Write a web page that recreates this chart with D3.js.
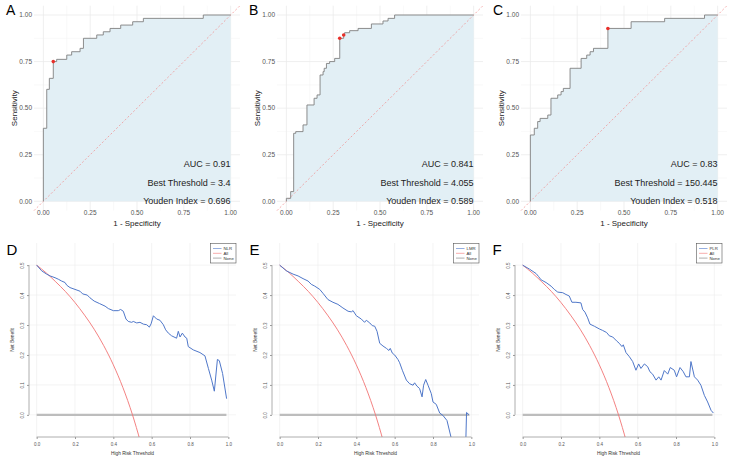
<!DOCTYPE html>
<html>
<head>
<meta charset="utf-8">
<script src="https://cdn.jsdelivr.net/npm/d3@7"></script>
<style>
body { margin: 0; background: #fff; }
svg { font-family: "Liberation Sans", Arial, sans-serif; }
</style>
</head>
<body>
<svg id="chart" width="729" height="461"></svg>
<script>
// ROC curves: vertices of the step curve (fpr, tpr)
const rocA_fpr = [0, 0, 0.018, 0.032, 0.053, 0.071, 0.125, 0.151, 0.196, 0.214, 0.285, 0.32, 0.356, 0.413, 0.477, 0.534, 0.854, 1];
const rocA_tpr = [0, 0.392, 0.601, 0.66, 0.75, 0.762, 0.785, 0.803, 0.821, 0.875, 0.893, 0.91, 0.928, 0.946, 0.964, 0.982, 1, 1];

const rocB_fpr = [0, 0, 0.023, 0.039, 0.05, 0.089, 0.11, 0.148, 0.164, 0.18, 0.196, 0.202, 0.214, 0.231, 0.258, 0.285, 0.306, 0.311, 0.338, 0.383, 0.454, 0.516, 0.543, 0.578, 1];
const rocB_tpr = [0, 0.016, 0.052, 0.365, 0.374, 0.41, 0.517, 0.553, 0.571, 0.678, 0.696, 0.714, 0.74, 0.75, 0.767, 0.875, 0.893, 0.905, 0.916, 0.928, 0.952, 0.968, 0.982, 1, 1];

const rocC_fpr = [0, 0, 0.021, 0.039, 0.052, 0.093, 0.11, 0.146, 0.164, 0.176, 0.212, 0.271, 0.301, 0.319, 0.337, 0.414, 0.538, 0.717, 0.93, 1];
const rocC_tpr = [0, 0.356, 0.392, 0.428, 0.445, 0.463, 0.553, 0.571, 0.589, 0.606, 0.714, 0.767, 0.785, 0.803, 0.821, 0.928, 0.964, 0.982, 1, 1];

// best thresholds (red points)
const bestA = [[0.053, 0.75]];
const bestB = [[0.285, 0.875], [0.306, 0.893]];
const bestC = [[0.414, 0.928]];

const rocLabels = ["A", "B", "C"];
const aucText = ["AUC = 0.91", "AUC = 0.841", "AUC = 0.83"];
const thresholdText = ["Best Threshold = 3.4", "Best Threshold = 4.055", "Best Threshold = 150.445"];
const youdenText = ["Youden Index = 0.696", "Youden Index = 0.589", "Youden Index = 0.518"];
const rocTicks = [0, 0.25, 0.5, 0.75, 1];

// Decision curves
const allThr = [0, 0.05, 0.1, 0.15, 0.2, 0.25, 0.3, 0.35, 0.4, 0.45, 0.5, 0.52, 0.54];
const allNb  = [0.5, 0.474, 0.444, 0.412, 0.375, 0.333, 0.286, 0.231, 0.167, 0.091, 0.0, -0.042, -0.087];

const nlrThr = [0, 0.026, 0.052, 0.07, 0.096, 0.113, 0.13, 0.148, 0.157, 0.174, 0.2, 0.226, 0.24, 0.264, 0.278, 0.3, 0.327, 0.357, 0.374, 0.4, 0.426, 0.438, 0.452, 0.466, 0.478, 0.496, 0.504, 0.522, 0.539, 0.557, 0.574, 0.588, 0.597, 0.609, 0.626, 0.643, 0.661, 0.673, 0.687, 0.704, 0.73, 0.739, 0.748, 0.76, 0.774, 0.783, 0.791, 0.817, 0.852, 0.878, 0.896, 0.913, 0.927, 0.943, 0.953, 0.97, 0.991];
const nlrNb  = [0.5, 0.481, 0.47, 0.464, 0.458, 0.453, 0.447, 0.442, 0.433, 0.425, 0.419, 0.413, 0.404, 0.4, 0.391, 0.38, 0.372, 0.363, 0.355, 0.348, 0.348, 0.352, 0.346, 0.32, 0.312, 0.309, 0.312, 0.307, 0.309, 0.303, 0.301, 0.293, 0.304, 0.331, 0.32, 0.316, 0.301, 0.284, 0.273, 0.264, 0.256, 0.279, 0.26, 0.273, 0.26, 0.256, 0.228, 0.217, 0.208, 0.197, 0.155, 0.116, 0.079, 0.185, 0.181, 0.138, 0.054];

const lmrThr = [0, 0.035, 0.07, 0.096, 0.122, 0.148, 0.165, 0.183, 0.209, 0.226, 0.252, 0.278, 0.304, 0.33, 0.357, 0.374, 0.383, 0.4, 0.426, 0.443, 0.452, 0.47, 0.483, 0.496, 0.508, 0.522, 0.539, 0.557, 0.57, 0.577, 0.588, 0.6, 0.617, 0.626, 0.64, 0.661, 0.678, 0.696, 0.704, 0.716, 0.73, 0.743, 0.751, 0.762, 0.774, 0.791, 0.8, 0.817, 0.835, 0.852, 0.873, 0.896, 0.93, 0.97, 0.975, 0.988];
const lmrNb  = [0.5, 0.481, 0.47, 0.464, 0.455, 0.447, 0.436, 0.43, 0.419, 0.406, 0.385, 0.376, 0.369, 0.357, 0.346, 0.344, 0.348, 0.331, 0.32, 0.309, 0.316, 0.307, 0.298, 0.296, 0.279, 0.239, 0.23, 0.222, 0.215, 0.222, 0.206, 0.2, 0.185, 0.174, 0.149, 0.116, 0.104, 0.099, 0.107, 0.096, 0.088, 0.06, 0.099, 0.118, 0.099, 0.071, 0.043, 0.035, 0.006, -0.002, -0.019, -0.08, -0.15, -0.12, 0.008, 0.0];

const plrThr = [0, 0.035, 0.07, 0.083, 0.096, 0.122, 0.148, 0.165, 0.183, 0.209, 0.226, 0.243, 0.257, 0.278, 0.304, 0.313, 0.325, 0.339, 0.351, 0.374, 0.4, 0.417, 0.438, 0.452, 0.47, 0.49, 0.504, 0.518, 0.525, 0.539, 0.557, 0.574, 0.591, 0.605, 0.617, 0.635, 0.652, 0.664, 0.678, 0.696, 0.71, 0.722, 0.739, 0.757, 0.77, 0.791, 0.803, 0.821, 0.838, 0.852, 0.87, 0.878, 0.896, 0.913, 0.93, 0.948, 0.965, 0.983, 0.995];
const plrNb  = [0.5, 0.487, 0.472, 0.462, 0.451, 0.442, 0.43, 0.419, 0.41, 0.408, 0.402, 0.397, 0.376, 0.376, 0.374, 0.352, 0.343, 0.324, 0.303, 0.296, 0.287, 0.282, 0.275, 0.264, 0.26, 0.247, 0.239, 0.228, 0.234, 0.208, 0.194, 0.178, 0.149, 0.17, 0.155, 0.17, 0.161, 0.144, 0.136, 0.116, 0.127, 0.116, 0.148, 0.136, 0.158, 0.149, 0.127, 0.158, 0.144, 0.127, 0.127, 0.178, 0.127, 0.116, 0.099, 0.065, 0.043, 0.015, 0.006];

const noneThr = [0, 0.99];
const noneNb = [0, 0];

const dcaLabels = ["D", "E", "F"];
const dcaModels = ["NLR", "LMR", "PLR"];
const dcaXTicks = [0, 0.2, 0.4, 0.6, 0.8, 1];
const dcaYTicks = [0, 0.1, 0.2, 0.3, 0.4, 0.5];

const zip = (a, b) => a.map((v, i) => [v, b[i]]);

const svg = d3.select("#chart");

function drawRoc(left, idx, fpr, tpr, best) {
	const g = svg.append("g").attr("transform", `translate(${left},0)`);
	const x = d3.scaleLinear().domain([-0.05, 1.05]).range([34, 240]);
	const y = d3.scaleLinear().domain([-0.05, 1.05]).range([210.6, 5.7]);

	// grid (theme_minimal)
	const minor = [0.125, 0.375, 0.625, 0.875];
	g.append("g").selectAll("line").data(minor).join("line")
		.attr("x1", (d) => x(d)).attr("x2", (d) => x(d)).attr("y1", y.range()[0]).attr("y2", y.range()[1])
		.attr("stroke", "#f3f3f3").attr("stroke-width", 0.5);
	g.append("g").selectAll("line").data(minor).join("line")
		.attr("y1", (d) => y(d)).attr("y2", (d) => y(d)).attr("x1", x.range()[0]).attr("x2", x.range()[1])
		.attr("stroke", "#f3f3f3").attr("stroke-width", 0.5);
	g.append("g").selectAll("line").data(rocTicks).join("line")
		.attr("x1", (d) => x(d)).attr("x2", (d) => x(d)).attr("y1", y.range()[0]).attr("y2", y.range()[1])
		.attr("stroke", "#ebebeb").attr("stroke-width", 0.8);
	g.append("g").selectAll("line").data(rocTicks).join("line")
		.attr("y1", (d) => y(d)).attr("y2", (d) => y(d)).attr("x1", x.range()[0]).attr("x2", x.range()[1])
		.attr("stroke", "#ebebeb").attr("stroke-width", 0.8);

	const pts = zip(fpr, tpr);
	const area = d3.area().curve(d3.curveStepAfter).x((d) => x(d[0])).y0(y(0)).y1((d) => y(d[1]));
	g.append("path").datum(pts).attr("d", area).attr("fill", "#e2eff5");

	// diagonal reference
	g.append("line")
		.attr("x1", x(-0.05)).attr("y1", y(-0.05)).attr("x2", x(1.05)).attr("y2", y(1.05))
		.attr("stroke", "#f08a8a").attr("stroke-width", 0.7).attr("stroke-dasharray", "2,2");

	const line = d3.line().curve(d3.curveStepAfter).x((d) => x(d[0])).y((d) => y(d[1]));
	g.append("path").datum(pts).attr("d", line)
		.attr("fill", "none").attr("stroke", "#808080").attr("stroke-width", 0.9);

	g.append("g").selectAll("circle").data(best).join("circle")
		.attr("cx", (d) => x(d[0])).attr("cy", (d) => y(d[1])).attr("r", 1.8).attr("fill", "#e8302a");

	// axis labels
	const fmt = d3.format(".2f");
	g.append("g").selectAll("text").data(rocTicks).join("text")
		.attr("x", (d) => x(d)).attr("y", 215).attr("text-anchor", "middle")
		.attr("font-size", 6.5).attr("fill", "#555").text(fmt);
	g.append("g").selectAll("text").data(rocTicks).join("text")
		.attr("x", 32).attr("y", (d) => y(d) + 2.3).attr("text-anchor", "end")
		.attr("font-size", 6.5).attr("fill", "#555").text(fmt);
	g.append("text").attr("x", x(0.5)).attr("y", 226).attr("text-anchor", "middle")
		.attr("font-size", 8).attr("fill", "#222").text("1 - Specificity");
	g.append("text").attr("transform", `translate(16.5,${y(0.5)}) rotate(-90)`).attr("text-anchor", "middle")
		.attr("font-size", 8).attr("fill", "#222").text("Sensitivity");

	// annotations
	[aucText[idx], thresholdText[idx], youdenText[idx]].forEach((t, i) => {
		g.append("text").attr("x", x(1)).attr("y", y(0.2 - i * 0.1) + 3.2).attr("text-anchor", "end")
			.attr("font-size", 9).attr("fill", "#222").text(t);
	});

	g.append("text").attr("x", 6).attr("y", 14.5).attr("font-size", 14).attr("fill", "#000").text(rocLabels[idx]);
}

function drawDca(left, idx, thr, nb) {
	const g = svg.append("g").attr("transform", `translate(${left},0)`);
	const x = d3.scaleLinear().domain([-0.04, 1.04]).range([29, 236]);
	const y = d3.scaleLinear().domain([-0.074, 0.574]).range([437, 243]);
	const clipId = `clip-${idx}`;
	g.append("clipPath").attr("id", clipId).append("rect")
		.attr("x", 29).attr("y", 243).attr("width", 207).attr("height", 194);

	g.append("g").selectAll("line").data(dcaXTicks).join("line")
		.attr("x1", (d) => x(d)).attr("x2", (d) => x(d)).attr("y1", 243).attr("y2", 437)
		.attr("stroke", "#ededed").attr("stroke-width", 0.6);
	g.append("g").selectAll("line").data(dcaYTicks).join("line")
		.attr("y1", (d) => y(d)).attr("y2", (d) => y(d)).attr("x1", 29).attr("x2", 236)
		.attr("stroke", "#ededed").attr("stroke-width", 0.6);

	const line = d3.line().x((d) => x(d[0])).y((d) => y(d[1]));
	const curves = g.append("g").attr("clip-path", `url(#${clipId})`);
	curves.append("path").datum(zip(noneThr, noneNb)).attr("d", line)
		.attr("fill", "none").attr("stroke", "#bdbdbd").attr("stroke-width", 2.2);
	curves.append("path").datum(zip(allThr, allNb)).attr("d", line.curve(d3.curveMonotoneX))
		.attr("fill", "none").attr("stroke", "#f27474").attr("stroke-width", 0.9);
	curves.append("path").datum(zip(thr, nb)).attr("d", line.curve(d3.curveLinear))
		.attr("fill", "none").attr("stroke", "#4f77c9").attr("stroke-width", 1);

	// axes (base R style: axis line spans first to last tick)
	const axisColor = "#9a9a9a";
	const xAxis = g.append("g").attr("transform", "translate(0,437)")
		.call(d3.axisBottom(x).tickValues(dcaXTicks).tickSize(2).tickSizeOuter(0).tickFormat(d3.format(".1f")));
	const yAxis = g.append("g").attr("transform", "translate(29,0)")
		.call(d3.axisLeft(y).tickValues(dcaYTicks).tickSize(2).tickSizeOuter(0).tickFormat(d3.format(".1f")));
	xAxis.select(".domain").attr("d", `M${x(0)},0H${x(1)}`);
	yAxis.select(".domain").attr("d", `M0,${y(0)}V${y(0.5)}`);
	[xAxis, yAxis].forEach((a) => {
		a.attr("font-family", null);
		a.select(".domain").attr("stroke", axisColor).attr("stroke-width", 0.8);
		a.selectAll(".tick line").attr("stroke", axisColor);
		a.selectAll("text").attr("font-size", 4.5).attr("fill", "#555");
	});
	xAxis.selectAll("text").attr("dy", "0.9em");
	yAxis.selectAll(".tick text")
		.attr("x", null).attr("dy", null).attr("text-anchor", "middle")
		.attr("transform", "translate(-5,0) rotate(-90)");

	g.append("text").attr("x", x(0.5)).attr("y", 455).attr("text-anchor", "middle")
		.attr("font-size", 4.8).attr("fill", "#333").text("High Risk Threshold");
	g.append("text").attr("transform", `translate(14,${y(0.25)}) rotate(-90)`).attr("text-anchor", "middle")
		.attr("font-size", 4.8).attr("fill", "#333").text("Net Benefit");

	// legend
	const lg = g.append("g").attr("transform", "translate(210.5,243.5)");
	lg.append("rect").attr("width", 25.5).attr("height", 19.5)
		.attr("fill", "#fff").attr("stroke", "#555").attr("stroke-width", 0.6);
	const entries = [[dcaModels[idx], "#4f77c9"], ["All", "#f27474"], ["None", "#777"]];
	entries.forEach((e, i) => {
		const yy = 5 + i * 4.8;
		lg.append("line").attr("x1", 2.5).attr("x2", 11).attr("y1", yy).attr("y2", yy)
			.attr("stroke", e[1]).attr("stroke-width", 0.6);
		lg.append("text").attr("x", 13).attr("y", yy + 1.5).attr("font-size", 4.3).attr("fill", "#333").text(e[0]);
	});

	g.append("text").attr("x", 6.5).attr("y", 255).attr("font-size", 15).attr("fill", "#000").text(dcaLabels[idx]);
}

drawRoc(0, 0, rocA_fpr, rocA_tpr, bestA);
drawRoc(243, 1, rocB_fpr, rocB_tpr, bestB);
drawRoc(487, 2, rocC_fpr, rocC_tpr, bestC);

drawDca(0, 0, nlrThr, nlrNb);
drawDca(243, 1, lmrThr, lmrNb);
drawDca(486, 2, plrThr, plrNb);
</script>
</body>
</html>
